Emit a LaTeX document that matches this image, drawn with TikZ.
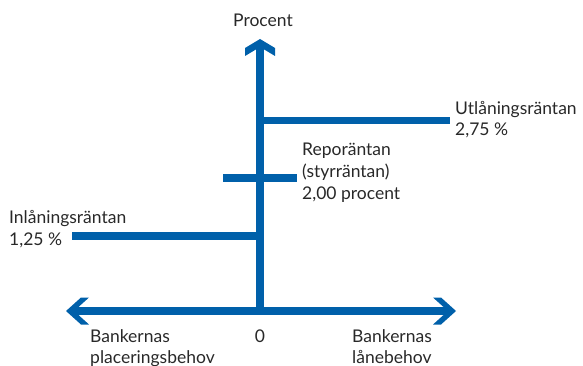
\documentclass[tikz,border=0pt]{standalone}
\usepackage{fontspec}
\setmainfont{Lato}
\definecolor{axisblue}{RGB}{0,96,170}
\definecolor{txtgray}{RGB}{40,40,40}
\begin{document}
\begin{tikzpicture}[x=1pt,y=-1pt,
  axisline/.style={line width=7.5pt,axisblue},
  headfill/.style={fill=axisblue,draw=none},
  lbl/.style={inner sep=0pt,anchor=base west,text=txtgray,font=\fontsize{17.5}{22}\selectfont}]
\useasboundingbox (0,0) rectangle (583,366);
% named coordinates
\coordinate (vtop) at (260,49.5);
\coordinate (vbot) at (260,314.75);
\coordinate (hl) at (78,311);
\coordinate (hr) at (444,311);
\coordinate (ua) at (260,120.5);
\coordinate (ub) at (450,120.5);
\coordinate (ra) at (223,178);
\coordinate (rb) at (297,178);
\coordinate (ia) at (72,236);
\coordinate (ib) at (260,236);
% axes
\draw[axisline] (vtop) -- (vbot);
\draw[axisline] (hl) -- (hr);
% arrowheads
\fill[headfill] (260,39) -- (275,48) -- (275,56) -- (263.75,49.25) -- (256.25,49.25) -- (245,56) -- (245,48) -- cycle;
\fill[headfill] (456,311) -- (441,297.5) -- (433,297.5) -- (443.8,307.25) -- (443.8,314.75) -- (433,324.5) -- (441,324.5) -- cycle;
\fill[headfill] (66,311) -- (81,297.5) -- (89,297.5) -- (78.2,307.25) -- (78.2,314.75) -- (89,324.5) -- (81,324.5) -- cycle;
% rate lines
\draw[axisline] (ua) -- (ub);
\draw[axisline] (ra) -- (rb);
\draw[axisline] (ia) -- (ib);
% labels
\node[lbl] (procent) at (233,27) {Procent};
\node[lbl] (ut1) at (455,115) {Utlåningsräntan};
\node[lbl] (ut2) at (455,136) {2,75 \%};
\node[lbl] (re1) at (302,156) {Reporäntan};
\node[lbl] (re2) at (302,178) {(styrräntan)};
\node[lbl] (re3) at (302,200) {2,00 procent};
\node[lbl] (in1) at (9,223.3) {Inlåningsräntan};
\node[lbl] (in2) at (9,245) {1,25 \%};
\node[lbl,anchor=base] (zero) at (260,342) {0};
\node[lbl] (bl1) at (90,342) {Bankernas};
\node[lbl] (bl2) at (90,363) {placeringsbehov};
\node[lbl] (br1) at (352,342) {Bankernas};
\node[lbl] (br2) at (352,363) {lånebehov};
\end{tikzpicture}
\end{document}
